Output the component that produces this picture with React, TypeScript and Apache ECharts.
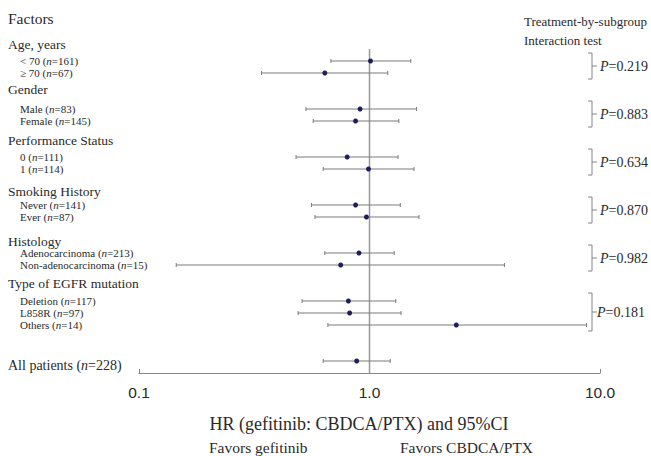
import React, { useEffect, useRef } from "react";
import * as echarts from "echarts";

// ---- data ----
const rowSlots = [0, 1, 4, 5, 8, 9, 12, 13, 16, 17, 20, 21, 22, 25];
const rowNames = [
  "< 70", "\u2265 70", "Male", "Female", "0", "1", "Never", "Ever",
  "Adenocarcinoma", "Non-adenocarcinoma", "Deletion", "L858R", "Others", "All patients",
];
const rowN = [161, 67, 83, 145, 111, 114, 141, 87, 213, 15, 117, 97, 14, 228];
const hrValues = [1.01, 0.64, 0.91, 0.87, 0.8, 0.99, 0.87, 0.97, 0.9, 0.75, 0.81, 0.82, 2.38, 0.88];
const ciLower = [0.68, 0.34, 0.53, 0.57, 0.48, 0.63, 0.56, 0.58, 0.64, 0.145, 0.51, 0.49, 0.66, 0.63];
const ciUpper = [1.51, 1.2, 1.6, 1.34, 1.33, 1.56, 1.36, 1.64, 1.28, 3.85, 1.3, 1.37, 8.74, 1.23];

const groupNames = ["Age, years", "Gender", "Performance Status", "Smoking History", "Histology", "Type of EGFR mutation"];
const groupHeaderSlot = [-1.4, 2.4, 6.65, 10.9, 15.0, 18.5];
const groupFirstSlot = [0, 4, 8, 12, 16, 20];
const groupLastSlot = [1, 5, 9, 13, 17, 22];
const pValues = ["0.219", "0.883", "0.634", "0.870", "0.982", "0.181"];

const xTicks = [0.1, 1, 10];

// ---- layout ----
const W = 651;
const H = 456;
const GRID = { left: 139, right: 51, top: 49, bottom: 83 };
const Y_MIN = -1;
const Y_MAX = 26;
const SERIF = "Liberation Serif";
const SANS = "Liberation Sans";
const TXT = "#2a2a2a";
const GRAY = "#858585";

const slotToPx = (s: number) =>
  GRID.top + ((s - Y_MIN) / (Y_MAX - Y_MIN)) * (H - GRID.top - GRID.bottom);

export default function App() {
  const ref = useRef<HTMLDivElement>(null);
  useEffect(() => {
    document.body.style.margin = "0";
    if (!ref.current) return;
    const chart = echarts.init(ref.current, undefined, { renderer: "svg" });

    const graphics: any[] = [];
    graphics.push({
      type: "text",
      style: { text: "Factors", x: 8, y: 18, fill: TXT, fontFamily: SERIF, fontSize: 15.5, verticalAlign: "middle" },
    });
    groupNames.forEach((g, i) => {
      graphics.push({
        type: "text",
        style: {
          text: g, x: 8, y: slotToPx(groupHeaderSlot[i]), fill: TXT, fontFamily: SERIF, fontSize: 13.5,
          verticalAlign: "middle",
        },
      });
    });
    rowNames.forEach((name, i) => {
      const isAll = i === rowNames.length - 1;
      const fs = isAll ? 14 : 11;
      graphics.push({
        type: "text",
        style: {
          text: `{a|${name} (}{i|n}{a|=${rowN[i]})}`,
          x: isAll ? 8 : 20,
          y: slotToPx(rowSlots[i]) + (isAll ? 4 : 0),
          verticalAlign: "middle",
          fill: TXT,
          fontFamily: SERIF,
          fontSize: fs,
          rich: {
            a: { fontFamily: SERIF, fontSize: fs, fill: TXT },
            i: { fontFamily: SERIF, fontSize: fs, fill: TXT, fontStyle: "italic" },
          },
        },
      });
    });
    // right header
    graphics.push({
      type: "text",
      style: { text: "Treatment-by-subgroup", x: 524, y: 21, fill: TXT, fontFamily: SERIF, fontSize: 13, verticalAlign: "middle" },
    });
    graphics.push({
      type: "text",
      style: { text: "Interaction test", x: 524, y: 40, fill: TXT, fontFamily: SERIF, fontSize: 13, verticalAlign: "middle" },
    });
    pValues.forEach((p, i) => {
      const top = slotToPx(groupFirstSlot[i]) - 8;
      const bot = slotToPx(groupLastSlot[i]) + 6;
      const mid = (top + bot) / 2;
      graphics.push({
        type: "polyline",
        shape: { points: [[588, top], [592, top], [592, bot], [588, bot]] },
        style: { stroke: GRAY, lineWidth: 1, fill: "none" },
      });
      graphics.push({
        type: "line",
        shape: { x1: 592, y1: mid, x2: 597, y2: mid },
        style: { stroke: GRAY, lineWidth: 1 },
      });
      graphics.push({
        type: "text",
        style: {
          text: `{i|P}{a|=${p}}`,
          x: i === pValues.length - 1 ? 597 : 600,
          y: mid,
          verticalAlign: "middle",
          fill: TXT,
          fontFamily: SERIF,
          fontSize: 14,
          rich: {
            a: { fontFamily: SERIF, fontSize: 14, fill: TXT },
            i: { fontFamily: SERIF, fontSize: 14, fill: TXT, fontStyle: "italic" },
          },
        },
      });
    });
    graphics.push({
      type: "text",
      style: {
        text: "HR (gefitinib: CBDCA/PTX) and 95%CI", x: 359, y: 424, fill: TXT, fontFamily: SERIF, fontSize: 18,
        align: "center", verticalAlign: "middle",
      },
    });
    graphics.push({
      type: "text",
      style: { text: "Favors gefitinib", x: 209, y: 447, fill: TXT, fontFamily: SERIF, fontSize: 15.5, verticalAlign: "middle" },
    });
    graphics.push({
      type: "text",
      style: { text: "Favors CBDCA/PTX", x: 400, y: 447, fill: TXT, fontFamily: SERIF, fontSize: 15.5, verticalAlign: "middle" },
    });

    const ciData = rowSlots.map((s, i) => [s, ciLower[i], hrValues[i], ciUpper[i]]);

    chart.setOption({
      animation: false,
      backgroundColor: "#ffffff",
      grid: { ...GRID },
      xAxis: {
        type: "log",
        logBase: 10,
        min: xTicks[0],
        max: xTicks[xTicks.length - 1],
        axisLine: { show: true, onZero: false, lineStyle: { color: GRAY, width: 1.2 } },
        axisTick: { show: true, inside: true, length: 4, lineStyle: { color: GRAY } },
        minorTick: { show: false },
        splitLine: { show: false },
        axisLabel: {
          formatter: (v: number) => Number(v).toFixed(1),
          fontFamily: SANS,
          fontSize: 15.5,
          color: TXT,
          margin: 11,
        },
      },
      yAxis: { type: "value", min: Y_MIN, max: Y_MAX, inverse: true, show: false },
      graphic: graphics,
      series: [
        {
          type: "line",
          data: [[1, Y_MIN], [1, Y_MAX]],
          symbol: "none",
          lineStyle: { color: "#9a9a9a", width: 1.5 },
          silent: true,
          z: 1,
        },
        {
          type: "custom",
          data: ciData,
          encode: { x: [1, 2, 3], y: 0 },
          z: 3,
          renderItem: (params: any, api: any) => {
            const y = api.value(0);
            const pL = api.coord([api.value(1), y]);
            const pM = api.coord([api.value(2), y]);
            const pR = api.coord([api.value(3), y]);
            const ls = { stroke: "#7a7a7a", lineWidth: 1 };
            return {
              type: "group",
              children: [
                { type: "line", shape: { x1: pL[0], y1: pL[1], x2: pR[0], y2: pR[1] }, style: ls },
                { type: "line", shape: { x1: pL[0], y1: pL[1] - 2, x2: pL[0], y2: pL[1] + 2 }, style: ls },
                { type: "line", shape: { x1: pR[0], y1: pR[1] - 2, x2: pR[0], y2: pR[1] + 2 }, style: ls },
                { type: "circle", shape: { cx: pM[0], cy: pM[1], r: 2.5 }, style: { fill: "#1e1e5a" } },
              ],
            };
          },
        },
      ],
    });
    return () => chart.dispose();
  }, []);
  return <div ref={ref} style={{ width: W, height: H }} />;
}
